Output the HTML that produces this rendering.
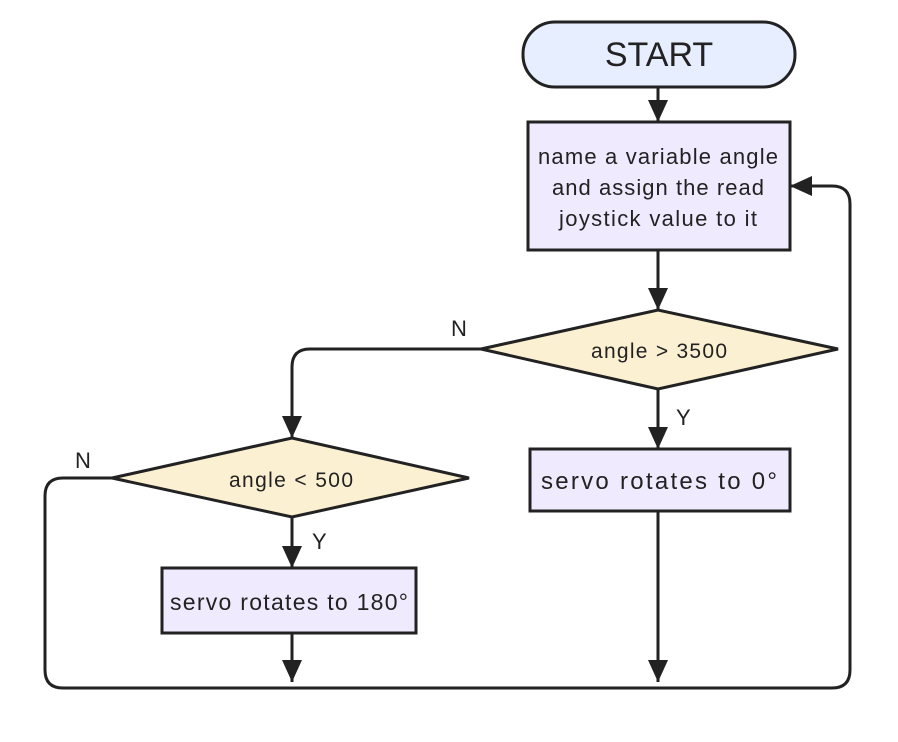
<!DOCTYPE html>
<html><head><style>body{margin:0;background:#fff}svg text{font-family:"Liberation Sans",sans-serif;fill:#222}</style></head>
<body>
<svg width="898" height="737" viewBox="0 0 898 737">
<defs>
<marker id="b" markerWidth="22" markerHeight="22" refX="22" refY="11" orient="auto" markerUnits="userSpaceOnUse" viewBox="0 0 22 22"><path d="M0,1L22,11L0,21z" fill="#222"/></marker></defs>
<g stroke="#222" stroke-width="3" fill="none">
<line x1="658" y1="87" x2="658" y2="122" marker-end="url(#b)"/>
<line x1="658" y1="250" x2="658" y2="310" marker-end="url(#b)"/>
<line x1="658" y1="389" x2="658" y2="449" marker-end="url(#b)"/>
<line x1="658" y1="511" x2="658" y2="682" marker-end="url(#b)"/>
<line x1="292" y1="517" x2="292" y2="568" marker-end="url(#b)"/>
<line x1="292" y1="633" x2="292" y2="682" marker-end="url(#b)"/>
<path d="M481,349 H310 Q292,349 292,367 V438" marker-end="url(#b)"/>
<path d="M112,478 H63 Q45,478 45,496 V670 Q45,688 63,688 H832 Q850,688 850,670 V204 Q850,186 832,186 H790" marker-end="url(#b)"/>
</g>
<rect x="523" y="22" width="272" height="65" rx="32" fill="#e6eeff" stroke="#222" stroke-width="3"/>
<text x="659" y="66" font-size="34" text-anchor="middle">START</text>
<rect x="528" y="122" width="262" height="128" fill="#efeafe" stroke="#222" stroke-width="3"/>
<text font-size="22" text-anchor="middle"><tspan x="658" y="164" textLength="240">name a variable angle</tspan><tspan x="658" y="195" textLength="212">and assign the read</tspan><tspan x="658" y="226" textLength="198">joystick value to it</tspan></text>
<polygon points="481,349 658,310 838,349 658,389" fill="#fcf0d2" stroke="#222" stroke-width="3"/>
<text x="659" y="358" font-size="21" text-anchor="middle" textLength="136">angle &gt; 3500</text>
<rect x="530" y="449" width="260" height="62" fill="#efeafe" stroke="#222" stroke-width="3"/>
<text x="659" y="489" font-size="24" text-anchor="middle" textLength="236">servo rotates to 0°</text>
<polygon points="112,478 292,438 469,478 292,517" fill="#fcf0d2" stroke="#222" stroke-width="3"/>
<text x="291" y="487" font-size="21" text-anchor="middle" textLength="124">angle &lt; 500</text>
<rect x="162" y="568" width="254" height="65" fill="#efeafe" stroke="#222" stroke-width="3"/>
<text x="289" y="610" font-size="23" text-anchor="middle" textLength="238">servo rotates to 180°</text>
<text x="451" y="336" font-size="22">N</text>
<text x="75" y="468" font-size="22">N</text>
<text x="676" y="425" font-size="22">Y</text>
<text x="312" y="549" font-size="22">Y</text>
</svg>
</body></html>
